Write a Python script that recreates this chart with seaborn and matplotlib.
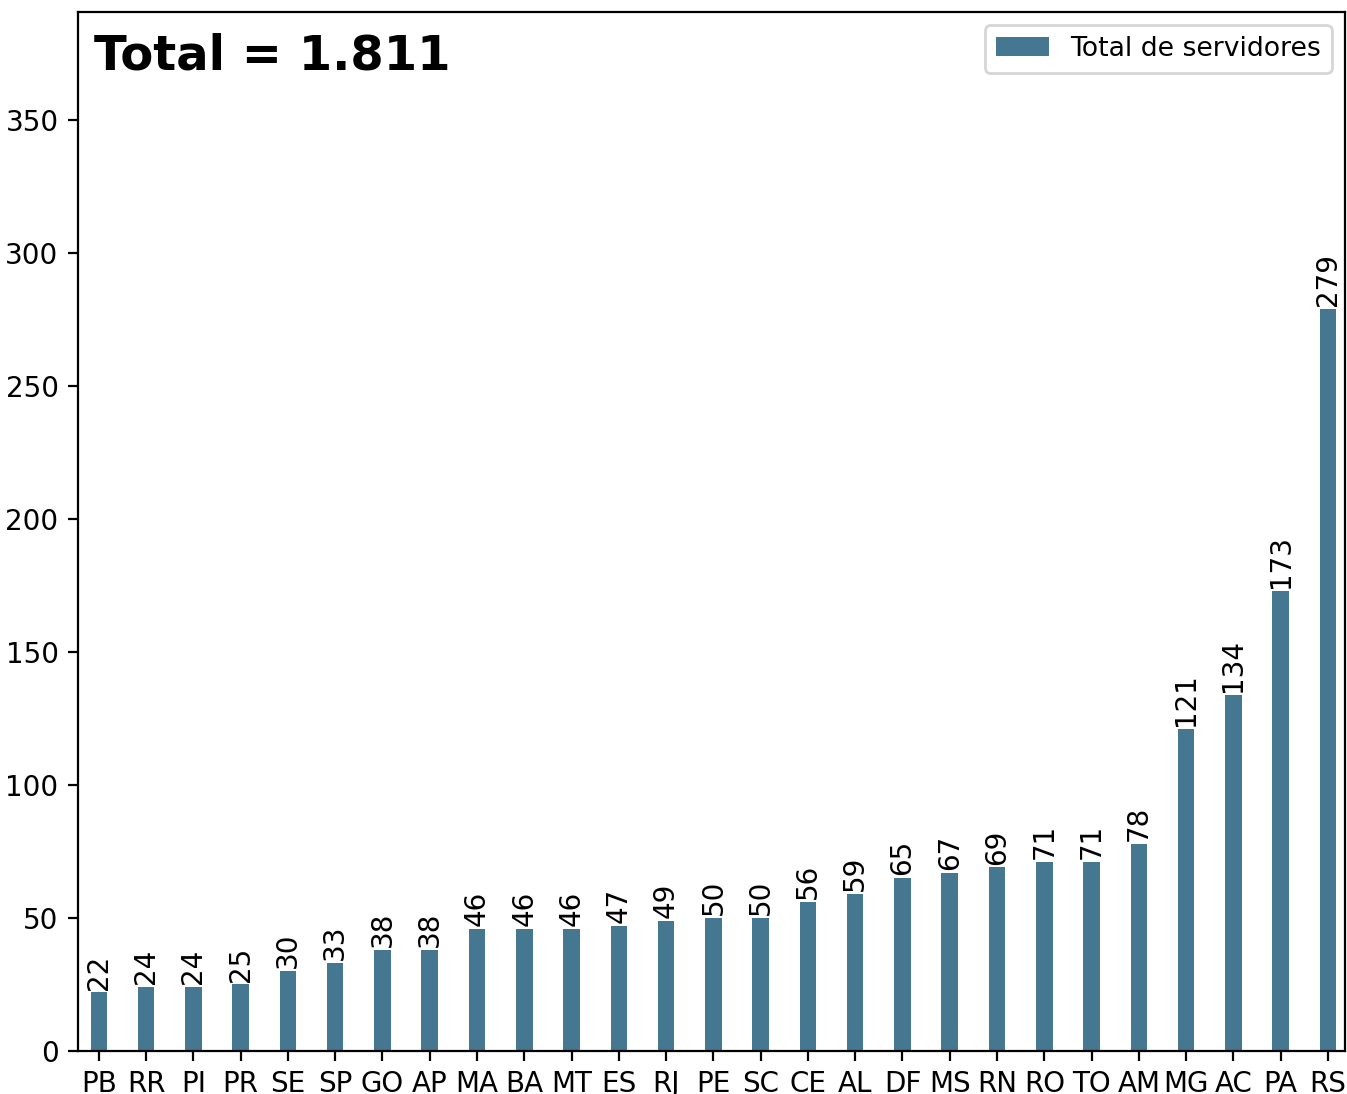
import matplotlib
matplotlib.use("Agg")
import matplotlib.pyplot as plt
from matplotlib.patches import Patch
import seaborn as sns
import pandas as pd

estados = ["PB", "RR", "PI", "PR", "SE", "SP", "GO", "AP", "MA", "BA", "MT", "ES", "RJ", "PE",
           "SC", "CE", "AL", "DF", "MS", "RN", "RO", "TO", "AM", "MG", "AC", "PA", "RS"]
servidores = [22, 24, 24, 25, 30, 33, 38, 38, 46, 46, 46, 47, 49, 50,
              50, 56, 59, 65, 67, 69, 71, 71, 78, 121, 134, 173, 279]
serie = "Total de servidores"
titulo = "Total = 1.811"
cor = "#457890"

df = pd.DataFrame({"estado": estados, "valor": servidores})

fig = plt.figure(figsize=(13.47 / 2, 10.94 / 2), dpi=200)
ax = fig.add_axes([78 / 1347, 1 - 1051 / 1094, (1345 - 78) / 1347, (1051 - 12) / 1094])

sns.barplot(data=df, x="estado", y="valor", color=cor, saturation=1, width=0.35, ax=ax)

ax.bar_label(ax.containers[0], labels=[str(v) for v in servidores], rotation=90, padding=1, fontsize=10)

ax.set_xlim(-0.44, 26.36)
ax.set_ylim(0, max(servidores) * 1.4)
ax.set_xlabel("")
ax.set_ylabel("")
ax.tick_params(labelsize=10)

ax.text(0.013, 0.98, titulo, transform=ax.transAxes, fontsize=17.3, fontweight="bold",
        va="top", ha="left")
ax.legend(handles=[Patch(facecolor=cor, label=serie)], loc="upper right", fontsize=9.6)

fig.savefig("out.png", dpi=200)
